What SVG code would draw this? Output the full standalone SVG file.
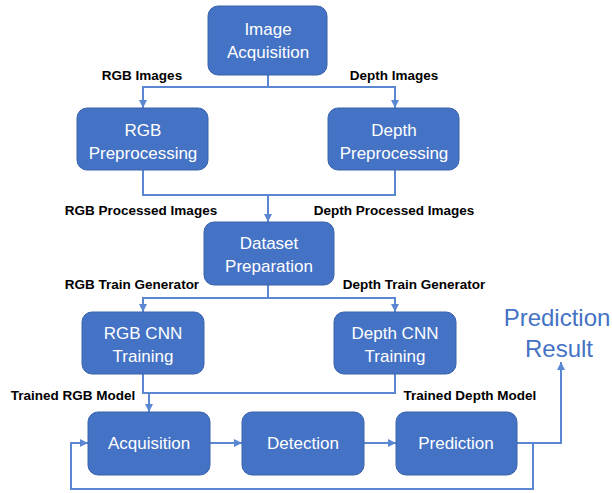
<svg xmlns="http://www.w3.org/2000/svg" width="612" height="493" viewBox="0 0 612 493">
<style>
.box{fill:#4472C4;stroke:#3A62AA;stroke-width:1}
.bt{font-family:"Liberation Sans",Arial,sans-serif;font-size:17px;fill:#fff;text-anchor:middle}
.lb{font-family:"Liberation Sans",Arial,sans-serif;font-size:13.5px;font-weight:bold;fill:#000;text-anchor:middle}
.ln{fill:none;stroke:#5B86D1;stroke-width:2}
.res{font-family:"Liberation Sans",Arial,sans-serif;font-size:24px;fill:#4472C4;text-anchor:middle}
</style>
<defs>
<marker id="ah" viewBox="0 0 10 10" refX="10" refY="5" markerWidth="4" markerHeight="4" orient="auto" markerUnits="strokeWidth">
<path d="M0,0 L10,5 L0,10 z" fill="#5B86D1"/>
</marker>
</defs>
<rect width="612" height="493" fill="#fff"/>
<g id="connectors">
<path class="ln" d="M268,75 V87"/>
<path class="ln" d="M268,87 H143 V108" marker-end="url(#ah)"/>
<path class="ln" d="M268,87 H395 V108" marker-end="url(#ah)"/>
<path class="ln" d="M143,170 V195 H395 V170"/>
<path class="ln" d="M268,195 V222" marker-end="url(#ah)"/>
<path class="ln" d="M268,285 V298"/>
<path class="ln" d="M268,298 H143 V312" marker-end="url(#ah)"/>
<path class="ln" d="M268,298 H395 V312" marker-end="url(#ah)"/>
<path class="ln" d="M143,374 V393 H395 V374"/>
<path class="ln" d="M149,393 V412" marker-end="url(#ah)"/>
<path class="ln" d="M210,443 H242" marker-end="url(#ah)"/>
<path class="ln" d="M364,443 H396" marker-end="url(#ah)"/>
<path class="ln" d="M517,443 H561 V362" marker-end="url(#ah)"/>
<path class="ln" d="M533,443 V489 H71 V443 H88" marker-end="url(#ah)"/>
</g>
<g id="labels">
<text class="lb" x="142" y="80">RGB Images</text>
<text class="lb" x="394" y="80">Depth Images</text>
<text class="lb" x="141" y="215">RGB Processed Images</text>
<text class="lb" x="394" y="215">Depth Processed Images</text>
<text class="lb" x="132" y="289">RGB Train Generator</text>
<text class="lb" x="414" y="289">Depth Train Generator</text>
<text class="lb" x="73" y="400">Trained RGB Model</text>
<text class="lb" x="470" y="400">Trained Depth Model</text>
</g>
<g id="n-image-acq"><rect class="box" x="208" y="6" width="119" height="69" rx="10"/><text class="bt" x="268" y="35">Image</text><text class="bt" x="268" y="58">Acquisition</text></g>
<g id="n-rgb-pre"><rect class="box" x="77" y="108" width="131" height="62" rx="10"/><text class="bt" x="143" y="136">RGB</text><text class="bt" x="143" y="159">Preprocessing</text></g>
<g id="n-depth-pre"><rect class="box" x="328" y="108" width="131" height="62" rx="10"/><text class="bt" x="394" y="136">Depth</text><text class="bt" x="394" y="159">Preprocessing</text></g>
<g id="n-dataset"><rect class="box" x="204" y="222" width="130" height="63" rx="10"/><text class="bt" x="269" y="249">Dataset</text><text class="bt" x="269" y="272">Preparation</text></g>
<g id="n-rgb-cnn"><rect class="box" x="82" y="312" width="122" height="62" rx="10"/><text class="bt" x="143" y="339">RGB CNN</text><text class="bt" x="143" y="362">Training</text></g>
<g id="n-depth-cnn"><rect class="box" x="334" y="312" width="122" height="62" rx="10"/><text class="bt" x="395" y="339">Depth CNN</text><text class="bt" x="395" y="362">Training</text></g>
<g id="n-acq"><rect class="box" x="88" y="412" width="122" height="63" rx="10"/><text class="bt" x="149" y="449">Acquisition</text></g>
<g id="n-det"><rect class="box" x="242" y="412" width="122" height="63" rx="10"/><text class="bt" x="303" y="449">Detection</text></g>
<g id="n-pred"><rect class="box" x="396" y="412" width="121" height="63" rx="10"/><text class="bt" x="456" y="449">Prediction</text></g>
<g id="n-result"><text class="res" x="557" y="326">Prediction</text><text class="res" x="559" y="357">Result</text></g>
</svg>
